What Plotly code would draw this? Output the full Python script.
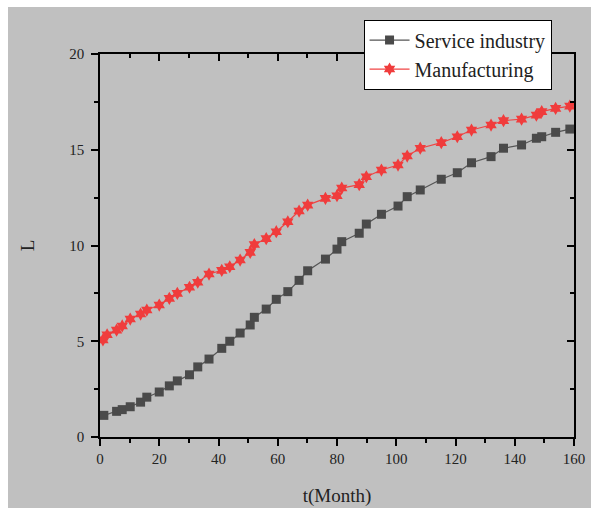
import plotly.graph_objects as go

t_month = [1.3, 5.6, 7.5, 10.2, 13.7, 15.8, 20.0, 23.4, 26.1, 30.2, 33.0, 36.8,
           41.1, 43.8, 47.3, 50.7, 52.1, 56.1, 59.5, 63.4, 67.2, 70.1, 76.1, 80.0,
           81.6, 87.5, 89.9, 95.0, 100.6, 103.7, 108.1, 115.2, 120.6, 125.4, 132.0,
           136.2, 142.3, 147.3, 149.1, 153.8, 158.6]

service = [1.13, 1.34, 1.43, 1.58, 1.82, 2.08, 2.35, 2.67, 2.93, 3.25, 3.66, 4.07,
           4.63, 5.00, 5.43, 5.85, 6.25, 6.68, 7.19, 7.59, 8.18, 8.68, 9.29, 9.81,
           10.2, 10.64, 11.12, 11.63, 12.06, 12.55, 12.9, 13.46, 13.8, 14.32, 14.64,
           15.08, 15.25, 15.6, 15.68, 15.91, 16.08]

t_manu = [1.0, 2.4, 5.6, 7.5, 10.2, 13.7, 15.8, 20.0, 23.4, 26.1, 30.2, 33.0, 36.8,
          41.1, 43.8, 47.3, 50.7, 52.1, 56.1, 59.5, 63.4, 67.2, 70.1, 76.1, 80.0,
          81.6, 87.5, 89.9, 95.0, 100.6, 103.7, 108.1, 115.2, 120.6, 125.4, 132.0,
          136.2, 142.3, 147.3, 149.1, 153.8, 158.6]

manufacturing = [5.07, 5.34, 5.58, 5.8, 6.16, 6.42, 6.63, 6.89, 7.24, 7.5, 7.82, 8.08, 8.51,
                 8.7, 8.89, 9.24, 9.64, 10.05, 10.36, 10.72, 11.24, 11.8, 12.11, 12.46, 12.6,
                 13.0, 13.18, 13.59, 13.94, 14.2, 14.67, 15.08, 15.37, 15.68, 16.03, 16.29,
                 16.52, 16.6, 16.81, 16.99, 17.16, 17.28]

x_ticks = [0, 20, 40, 60, 80, 100, 120, 140, 160]
y_ticks = [0, 5, 10, 15, 20]

FONT = "Liberation Serif, Times New Roman, serif"
BG = "#c0c0c0"

fig = go.Figure()
fig.add_trace(go.Scatter(
    x=t_month, y=service, name="Service industry", mode="lines+markers",
    line=dict(color="#555555", width=1.2),
    marker=dict(symbol="square", size=9, color="#4a4a4a"),
))
fig.add_trace(go.Scatter(
    x=t_manu, y=manufacturing, name="Manufacturing", mode="lines+markers",
    line=dict(color="#f04444", width=1.2),
    marker=dict(symbol="hexagram", size=10, color="#f03c3c"),
))
# invisible trace for mirrored (inward-tick) top/right axes
fig.add_trace(go.Scatter(x=[0], y=[0], xaxis="x2", yaxis="y2", mode="markers",
                         marker=dict(opacity=0), showlegend=False, hoverinfo="skip"))

axis_common = dict(showgrid=False, zeroline=False, showline=True, linecolor="black",
                   linewidth=1.5, tickcolor="black", tickwidth=1.5, automargin=False,
                   ticklabeloverflow="allow",
                   tickfont=dict(family=FONT, size=15, color="#222222"))

fig.update_layout(
    width=583, height=501,
    margin=dict(l=92, r=16.5, t=47, b=71),
    paper_bgcolor=BG, plot_bgcolor=BG,
    font=dict(family=FONT, color="#222222"),
    xaxis=dict(range=[0, 160], tickvals=x_ticks, ticks="outside", ticklen=7,
               minor=dict(dtick=10, ticks="outside", ticklen=4, tickcolor="black", tickwidth=1.5),
               title=dict(text="t(Month)", font=dict(family=FONT, size=19), standoff=23),
               **axis_common),
    yaxis=dict(range=[0, 20], tickvals=y_ticks, ticks="outside", ticklen=7,
               minor=dict(dtick=2.5, ticks="outside", ticklen=4, tickcolor="black", tickwidth=1.5),
               title=dict(text="L", font=dict(family=FONT, size=19), standoff=30),
               ticklabelstandoff=4,
               **axis_common),
    xaxis2=dict(range=[0, 160], overlaying="x", side="top", tickvals=x_ticks, ticks="inside",
                ticklen=7, showticklabels=False,
                minor=dict(dtick=10, ticks="inside", ticklen=4, tickcolor="black", tickwidth=1.5),
                **axis_common),
    yaxis2=dict(range=[0, 20], overlaying="y", side="right", tickvals=y_ticks, ticks="inside",
                ticklen=7, showticklabels=False,
                minor=dict(dtick=2.5, ticks="inside", ticklen=4, tickcolor="black", tickwidth=1.5),
                **axis_common),
    legend=dict(x=0.556, y=1.09, xanchor="left", yanchor="top",
                bgcolor="white", bordercolor="black", borderwidth=1,
                font=dict(family=FONT, size=20, color="#222222"),
                itemwidth=40, tracegroupgap=0),
    showlegend=True,
)

post = (
    "document.documentElement.style.background='white';"
    "document.body.style.background='#c0c0c0';"
    "document.body.style.margin='7px 0 0 8px';"
    "document.body.style.minHeight='501px';"
)

fig.write_html("out.html", config={"responsive": False}, post_script=post)
